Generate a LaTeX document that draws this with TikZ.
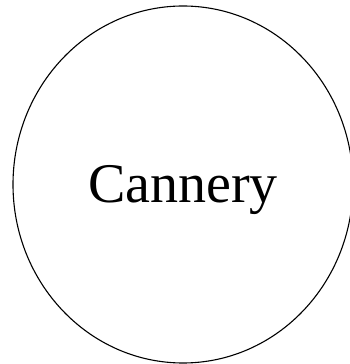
\documentclass[tikz,border=0pt]{standalone}
\usepackage{fontspec}
\setmainfont{Liberation Serif}
\usetikzlibrary{shapes.geometric}

\begin{document}
\begin{tikzpicture}[
  x=1pt, y=1pt,
  place/.style={draw, ellipse, line width=1.1pt, minimum width=340pt, minimum height=357pt, inner sep=0pt, text height=36pt, text depth=0pt, font=\fontsize{56}{62}\selectfont}
]
  \useasboundingbox (0,0) rectangle (350,364);
  \node[place] (cannery) at (183,179.5) {Cannery};
\end{tikzpicture}
\end{document}
